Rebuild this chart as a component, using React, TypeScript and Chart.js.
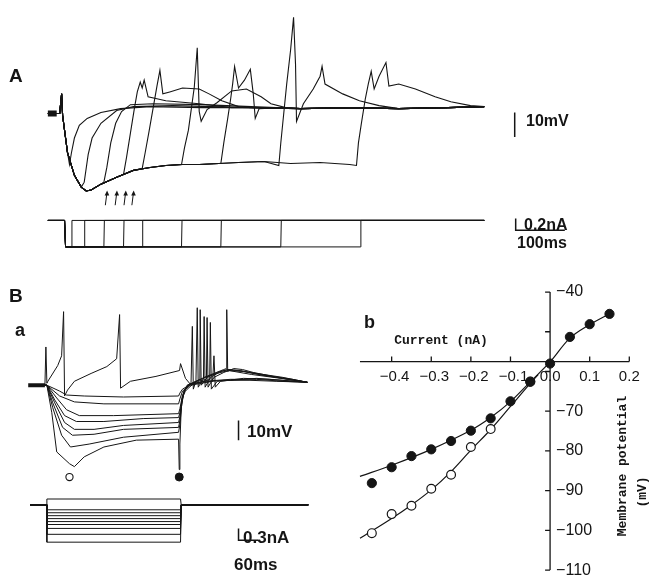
import React, { useEffect, useRef } from "react";
import { Chart, registerables } from "chart.js";
Chart.register(...registerables);

const W = 652;
const H = 587;
const INK = "#151515";

// ---------------- Panel A : membrane potential (ms, mV re. rest) ----------------
const aPrefix = [[-4, 0], [20, 0], [22, 4], [24, 8], [26, -0.8], [36, -16]];
const aEnvelope = [[50, -25.2], [64, -30], [74, -31.6], [84, -31.2], [104, -28.8], [136, -26], [170, -23.2], [204, -22], [236, -21.2], [270, -20.8], [304, -20.8], [344, -20.4], [384, -20], [436, -19.6], [490, -20.4], [550, -20], [610, -20.8]];
const aTail = [[410, 2.4], [510, 2], [610, 2.4], [710, 2], [810, 2.4], [884, 2.8]];
const aRebound1 = [[40, -20.8], [44, -16], [50, -10], [60, -4.8], [76, -2], [104, 0.4], [144, 2], [204, 2.8], [310, 2.4]];
const aRebound2 = [[70, -28], [78, -16.8], [86, -10], [104, -4], [136, 1.2], [170, 2.8], [250, 3.2]];
const aRebound3 = [[110, -28], [116, -22], [124, -12], [134, -4], [146, 0.8], [164, 3.6], [210, 4], [310, 3.6], [410, 2.8]];
const aRebound4 = [[150, -24.8], [156, -18], [164, -8], [172, 2], [178, 8.8], [184, 12.8], [188, 10.4], [192, 13.6], [200, 6.8], [236, 5.2], [304, 4], [370, 2.4]];
const aRebound5 = [[188, -22.4], [194, -16], [202, -7.2], [210, 2], [218, 11.2], [224, 17.6], [230, 8], [244, 8.8], [270, 10.4], [304, 10], [324, 8], [350, 5.2], [384, 2.8]];
const aRebound6 = [[268, -20.8], [274, -14], [282, -6.8], [288, 2], [294, 10.8], [300, 26.8], [304, 0.8], [308, -3.2], [320, 1.6], [340, 4.4], [370, 9.2], [400, 10], [430, 6.8], [450, 4], [480, 2.4]];
const aRebound7 = [[348, -20.4], [354, -12], [362, -2], [368, 6], [372, 12], [376, 19.2], [384, 10.4], [396, 13.6], [408, 18], [414, 8], [418, -2], [426, 2], [470, 2.4]];
const aRebound8 = [[466, -21.2], [470, -12], [476, 0], [482, 12], [490, 26], [496, 39.2], [500, 20], [502, -3.2], [516, 4], [536, 10], [550, 15.2], [554, 19.2], [560, 12], [596, 8], [630, 5.2], [670, 3.2]];
const aRebound9 = [[624, -21.2], [628, -12], [634, -4], [642, 6], [648, 12], [654, 17.2], [660, 10], [670, 15.2], [684, 20.8], [690, 11.2], [710, 12], [744, 10], [784, 6.8], [816, 4.8], [856, 3.2], [884, 2.8]];
const aRebounds = [aRebound1, aRebound2, aRebound3, aRebound4, aRebound5, aRebound6, aRebound7, aRebound8, aRebound9];
const aRestMarker = [[-4, 0], [14, 0]];
const arrowsT = [116, 136, 154, 170];
const arrowHeadV = -31.4;
const arrowTailV = -37.4;

// Panel A : injected current (nA)
const aPulseOnset = 30;
const aPulseAmp = -0.45;
const aPulseEnds = [44, 70, 110, 150, 188, 268, 348, 470, 632];
const aTraceEnd = 884;

// ---------------- Panel Ba : membrane potential (ms, mV re. rest) ----------------
const bTrace0 = [[-51, 0], [-6, 0], [-3, 19.5], [0, 1], [3, 2], [33, 10], [45, 15], [51, 37.5], [54, -5.5], [63, -2.5], [84, 2], [135, 6], [183, 9.5], [213, 13.5], [222, 36], [225, -1.5], [255, 2], [333, 4.5], [405, 7.5], [408, 11], [423, 3.5], [438, 0.5], [474, 3.5], [519, 6], [555, 7.5], [624, 5.5], [714, 3.5], [795, 1.5]];
const bPre = [[-51, 0], [-6, 0]];
const bStep1 = [[0, 0], [39, -3], [60, -5], [114, -5.5], [234, -6], [402, -5.5]];
const bStep2 = [[0, 0], [39, -5.5], [84, -8.5], [174, -9.5], [402, -9.5]];
const bStep3 = [[0, 0], [30, -6.5], [60, -12.5], [99, -15.5], [204, -15.5], [402, -14.5]];
const bStep4 = [[0, 0], [24, -7.5], [54, -15.5], [90, -18.5], [174, -18.5], [294, -17], [402, -16.5]];
const bStep5 = [[0, 0], [24, -9], [54, -19], [84, -22.5], [144, -22.5], [234, -20.5], [402, -19]];
const bStep6 = [[0, 0], [18, -9], [48, -21.5], [78, -25.5], [144, -25], [234, -22.5], [402, -21.5]];
const bStep7 = [[0, 0], [18, -11.5], [45, -25.5], [72, -31.5], [129, -30], [234, -26.5], [402, -24]];
const bStep8 = [[0, 0], [15, -14], [30, -34], [69, -40], [84, -41.5], [114, -36.5], [174, -31.5], [273, -28], [402, -27.5]];
const bOff1 = [[406, -4], [414, -2], [435, 0], [470, 1.5], [540, 2.5], [620, 2.5], [700, 2], [795, 1.5]];
const bOff2 = [[406, -7], [414, -3], [425, -1.5], [440, 0.5], [480, 2], [560, 3], [640, 3], [720, 2], [795, 1.5]];
const bOff3 = [[406, -12], [414, -5], [424, -2], [438, 0], [506, 2], [510, 15], [514, -1], [530, 2], [600, 3.5], [680, 3], [795, 1.5]];
const bOff4 = [[406, -14], [414, -6], [423, -3], [435, -1], [450, 1], [480, 2], [497, 3], [499, 32], [502, -2], [520, 2], [560, 2.5], [640, 3.5], [720, 2.5], [795, 1.5]];
const bOff5 = [[406, -16], [413, -7], [420, -3], [432, 0], [460, 2], [487, 3], [489, 34.5], [492, -1], [510, 4], [540, 6.5], [555, 7.5], [600, 7], [660, 5.5], [720, 4], [795, 1.5]];
const bOff6 = [[406, -18], [412, -8], [420, -3], [430, 0], [470, 3], [478, 3.5], [480, 35], [483, -1], [500, 4], [530, 7], [555, 8], [600, 7], [660, 5], [720, 3.5], [795, 1.5]];
const bOff7 = [[406, -20], [412, -9], [420, -3], [430, 0], [455, 2], [467, 3], [468, 38.5], [471, 0], [490, 4], [520, 6.5], [552, 8], [590, 7.5], [650, 5.5], [720, 3.5], [795, 1.5]];
const bOff8 = [[404, -43], [406, -30], [410, -12], [418, -3], [428, 0], [440, 1], [444, 30], [447, -2], [455, 2], [459, 39.5], [462, -1], [480, 4], [510, 6], [540, 8], [548, 8.5], [549, 38.5], [552, 7], [570, 8.5], [597, 8], [630, 6.5], [690, 4.5], [750, 3], [795, 1.5]];
const bSteps = [bStep1, bStep2, bStep3, bStep4, bStep5, bStep6, bStep7, bStep8];
const bOffs = [bOff1, bOff2, bOff3, bOff4, bOff5, bOff6, bOff7, bOff8];
const bRestMarker = [[-57, 0], [-6, 0]];
const bOpenMark = [[69, -46.8]];
const bFilledMark = [[404, -46.8]];

// Panel Ba : injected current (nA)
const bCurrentLevels = [0.15, -0.125, -0.2, -0.275, -0.35, -0.425, -0.5, -0.6, -0.75, -0.95];
const bPulseEnd = 408;
const bTraceStart = -51;
const bTraceEnd = 798;

// ---------------- Panel Bb : I-V relation ----------------
const ivCurrent = [-0.45, -0.4, -0.35, -0.3, -0.25, -0.2, -0.15, -0.1, -0.05, 0, 0.05, 0.1, 0.15];
const ivSteady = [-88.1, -84.1, -81.3, -79.6, -77.5, -74.9, -71.8, -67.5, -62.6, -58.0, -51.3, -48.1, -45.5];
const ivPeakCurrent = [-0.45, -0.4, -0.35, -0.3, -0.25, -0.2, -0.15, -0.05];
const ivPeak = [-100.7, -95.9, -93.8, -89.5, -86.0, -79.0, -74.5, -62.5];
const ivSteadyFitI = [-0.48, -0.4, -0.3, -0.2, -0.15, -0.1, -0.05, 0, 0.05, 0.1, 0.155];
const ivSteadyFitV = [-86.4, -83.6, -79.6, -74.8, -71.6, -67.6, -62.6, -57.6, -51.6, -48.2, -45.2];
const ivPeakFitI = [-0.48, -0.4, -0.35, -0.3, -0.25, -0.2, -0.15, -0.1, -0.05, -0.03];
const ivPeakFitV = [-102.0, -97.0, -93.6, -89.8, -85.2, -79.8, -74.6, -68.8, -63.0, -60.8];
const ivXTicks = [-0.4, -0.3, -0.2, -0.1, 0, 0.1, 0.2];
const ivXLabels = ["\u22120.4", "\u22120.3", "\u22120.2", "\u22120.1", "0.0", "0.1", "0.2"];
const ivYTicks = [-40, -50, -60, -70, -80, -90, -100, -110];
const ivYLabels = ["\u221240", "", "", "\u221270", "\u221280", "\u221290", "\u2212100", "\u2212110"];
const ivXRange = [-0.48, 0.2];
const ivYRange = [-40, -110];
const ivAxisV = -57.5;

const pts = (arr: number[][]) => arr.map(([x, y]) => ({ x, y }));
const zipPts = (xs: number[], ys: number[]) => xs.map((x, i) => ({ x, y: ys[i] }));

function lineDs(data: any[], xAxisID: string, yAxisID: string, extra: any = {}) {
  return {
    type: "line",
    data,
    xAxisID,
    yAxisID,
    borderColor: INK,
    borderWidth: 1,
    pointRadius: 0,
    tension: 0,
    fill: false,
    order: 2,
    ...extra,
  };
}

function buildDatasets() {
  const ds: any[] = [];
  ds.push({
    type: "line", showLine: false, data: zipPts(ivCurrent, ivSteady), xAxisID: "xIV", yAxisID: "yIV",
    pointRadius: 4.6, pointBackgroundColor: INK, pointBorderColor: INK, pointBorderWidth: 1, order: 0,
  });
  ds.push({
    type: "line", showLine: false, data: zipPts(ivPeakCurrent, ivPeak), xAxisID: "xIV", yAxisID: "yIV",
    pointRadius: 4.4, pointBackgroundColor: "#ffffff", pointBorderColor: INK, pointBorderWidth: 1.2, order: 0,
  });
  ds.push(lineDs(zipPts(ivSteadyFitI, ivSteadyFitV), "xIV", "yIV", { tension: 0.35, borderWidth: 1.2, order: 1 }));
  ds.push(lineDs(zipPts(ivPeakFitI, ivPeakFitV), "xIV", "yIV", { tension: 0.35, borderWidth: 1.2, order: 1 }));

  aRebounds.forEach((reb) => {
    const t0 = reb[0][0];
    const last = reb[reb.length - 1][0];
    const env = aEnvelope.filter((p) => p[0] < t0);
    const tail = aTail.filter((p) => p[0] > last);
    ds.push(lineDs(pts([...aPrefix, ...env, ...reb, ...tail]), "xA", "yA", { borderWidth: 1.1 }));
  });
  ds.push(lineDs(pts(aRestMarker), "xA", "yA", { borderWidth: 6 }));
  aPulseEnds.forEach((te) => {
    ds.push(lineDs(pts([[-4, 0], [aPulseOnset, 0], [aPulseOnset + 2, aPulseAmp], [te, aPulseAmp], [te + 1, 0], [aTraceEnd, 0]]), "xA", "yIA"));
  });

  ds.push(lineDs(pts(bTrace0), "xB", "yB"));
  bSteps.forEach((st, i) => {
    ds.push(lineDs(pts([...bPre, ...st, ...bOffs[i]]), "xB", "yB"));
  });
  ds.push(lineDs(pts(bRestMarker), "xB", "yB", { borderWidth: 4 }));
  ds.push({
    type: "line", showLine: false, data: pts(bOpenMark), xAxisID: "xB", yAxisID: "yB",
    pointRadius: 3.6, pointBackgroundColor: "#fff", pointBorderColor: INK, pointBorderWidth: 1.1, order: 0,
  });
  ds.push({
    type: "line", showLine: false, data: pts(bFilledMark), xAxisID: "xB", yAxisID: "yB",
    pointRadius: 4, pointBackgroundColor: INK, pointBorderColor: INK, order: 0,
  });
  bCurrentLevels.forEach((lv) => {
    ds.push(lineDs(pts([[bTraceStart, 0], [-1, 0], [0, lv], [bPulseEnd, lv], [bPulseEnd + 2, 0], [bTraceEnd, 0]]), "xB", "yIB"));
  });
  return ds;
}

const overlay = {
  id: "overlay",
  beforeDatasetsDraw(chart: any) {
    const ctx = chart.ctx;
    const X = chart.scales.xIV;
    const Y = chart.scales.yIV;
    const x0 = X.getPixelForValue(0);
    const y0 = Y.getPixelForValue(ivAxisV);
    ctx.save();
    ctx.strokeStyle = INK;
    ctx.lineWidth = 1.3;
    ctx.beginPath();
    ctx.moveTo(X.getPixelForValue(ivXRange[0]), y0);
    ctx.lineTo(X.getPixelForValue(ivXRange[1]), y0);
    ctx.moveTo(x0, Y.getPixelForValue(ivYRange[0]));
    ctx.lineTo(x0, Y.getPixelForValue(ivYRange[1]));
    ivXTicks.forEach((v) => {
      const px = X.getPixelForValue(v);
      ctx.moveTo(px, y0);
      ctx.lineTo(px, y0 - 5);
    });
    ivYTicks.forEach((v) => {
      const py = Y.getPixelForValue(v);
      ctx.moveTo(x0, py);
      ctx.lineTo(x0 - 5, py);
    });
    ctx.stroke();
    ctx.restore();
  },
  afterDraw(chart: any) {
    const ctx = chart.ctx;
    const s = chart.scales;
    ctx.save();
    ctx.fillStyle = INK;
    ctx.strokeStyle = INK;

    ctx.lineWidth = 1;
    arrowsT.forEach((t) => {
      const x = s.xA.getPixelForValue(t);
      const yh = s.yA.getPixelForValue(arrowHeadV);
      const yt = s.yA.getPixelForValue(arrowTailV);
      ctx.beginPath();
      ctx.moveTo(x - 1.5, yt);
      ctx.lineTo(x, yh + 3);
      ctx.stroke();
      ctx.beginPath();
      ctx.moveTo(x + 0.3, yh);
      ctx.lineTo(x - 2.2, yh + 5);
      ctx.lineTo(x + 2.4, yh + 5);
      ctx.closePath();
      ctx.fill();
    });

    ctx.lineWidth = 1.5;
    ctx.beginPath();
    let bx = s.xA.getPixelForValue(946);
    ctx.moveTo(bx, s.yA.getPixelForValue(0.4));
    ctx.lineTo(bx, s.yA.getPixelForValue(-9.6));
    bx = s.xA.getPixelForValue(948);
    ctx.moveTo(bx, s.yIA.getPixelForValue(0.033));
    ctx.lineTo(bx, s.yIA.getPixelForValue(-0.167));
    ctx.lineTo(s.xA.getPixelForValue(1048), s.yIA.getPixelForValue(-0.167));
    bx = s.xB.getPixelForValue(585);
    ctx.moveTo(bx, s.yB.getPixelForValue(-18));
    ctx.lineTo(bx, s.yB.getPixelForValue(-28));
    ctx.moveTo(bx, s.yIB.getPixelForValue(-0.6));
    ctx.lineTo(bx, s.yIB.getPixelForValue(-0.9));
    ctx.lineTo(s.xB.getPixelForValue(645), s.yIB.getPixelForValue(-0.9));
    ctx.stroke();

    ctx.textBaseline = "middle";
    ctx.textAlign = "left";
    ctx.font = "bold 19px 'Liberation Sans', Arial, sans-serif";
    ctx.fillText("A", 9, 77);
    ctx.fillText("B", 9, 297);
    ctx.font = "bold 18px 'Liberation Sans', Arial, sans-serif";
    ctx.fillText("a", 15, 331);
    ctx.fillText("b", 364, 323);
    ctx.font = "bold 16px 'Liberation Sans', Arial, sans-serif";
    ctx.fillText("10mV", 526, 122);
    ctx.fillText("0.2nA", 524, 226);
    ctx.fillText("100ms", 517, 244);
    ctx.font = "bold 17px 'Liberation Sans', Arial, sans-serif";
    ctx.fillText("10mV", 247, 432);
    ctx.fillText("0.3nA", 243, 538);
    ctx.fillText("60ms", 234, 565);

    const X = s.xIV;
    const Y = s.yIV;
    const x0 = X.getPixelForValue(0);
    const y0 = Y.getPixelForValue(ivAxisV);
    ctx.font = "15px 'Liberation Sans', Arial, sans-serif";
    ctx.textAlign = "center";
    ivXTicks.forEach((v, i) => {
      const px = X.getPixelForValue(v) + (v < 0 ? 3 : 0);
      ctx.fillText(ivXLabels[i], px, y0 + 15);
    });
    ctx.font = "16px 'Liberation Sans', Arial, sans-serif";
    ctx.textAlign = "left";
    ivYTicks.forEach((v, i) => {
      if (!ivYLabels[i]) return;
      ctx.fillText(ivYLabels[i], x0 + 6, Y.getPixelForValue(v));
    });
    ctx.font = "bold 13px 'Liberation Mono', 'DejaVu Sans Mono', monospace";
    ctx.textAlign = "center";
    ctx.fillText("Current (nA)", 441, 341);
    ctx.save();
    ctx.translate(623, 466);
    ctx.rotate(-Math.PI / 2);
    ctx.fillText("Membrane potential", 0, 0);
    ctx.restore();
    ctx.save();
    ctx.translate(643, 492);
    ctx.rotate(-Math.PI / 2);
    ctx.fillText("(mV)", 0, 0);
    ctx.restore();
    ctx.restore();
  },
};

const hidden = (min: number, max: number) => ({ type: "linear", display: false, min, max });

export default function App() {
  const ref = useRef<HTMLCanvasElement | null>(null);
  useEffect(() => {
    document.body.style.margin = "0";
    document.body.style.background = "#ffffff";
    if (!ref.current) return;
    const chart = new Chart(ref.current, {
      type: "line",
      data: { datasets: buildDatasets() },
      options: {
        animation: false,
        responsive: false,
        devicePixelRatio: 1,
        layout: { padding: 0 },
        plugins: { legend: { display: false }, title: { display: false }, tooltip: { enabled: false } },
        events: [],
        scales: {
          xA: hidden(-90, 1214),
          yA: hidden(-190.8, 44),
          yIA: hidden(-6.1333, 3.65),
          xB: hidden(-126, 1830),
          yB: hidden(-100, 193.5),
          yIB: hidden(-1.95, 12.725),
          xIV: hidden(-554 / 403, 98 / 403),
          yIV: hidden(-112.8395, 32.0988),
        } as any,
      },
      plugins: [overlay],
    } as any);
    return () => chart.destroy();
  }, []);
  return (
    <div style={{ position: "relative", width: W, height: H, background: "#fff" }}>
      <canvas ref={ref} width={W} height={H} style={{ display: "block", width: W, height: H }} />
    </div>
  );
}
